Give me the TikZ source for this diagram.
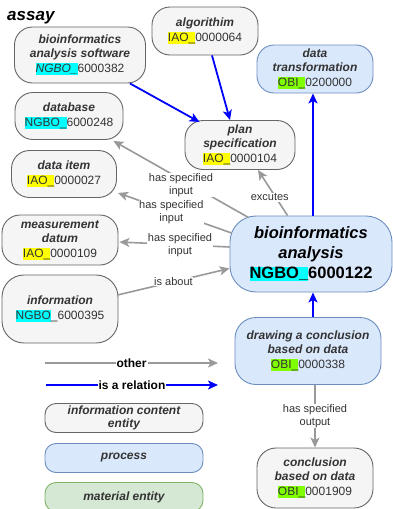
\documentclass[tikz,border=0pt]{standalone}
\usepackage{fontspec}
\setmainfont{Liberation Sans}
\usetikzlibrary{arrows.meta,calc}

\definecolor{txt}{HTML}{333333}
\definecolor{infofill}{HTML}{F5F5F5}
\definecolor{infodraw}{HTML}{666666}
\definecolor{procfill}{HTML}{DAE8FC}
\definecolor{procdraw}{HTML}{6C8EBF}
\definecolor{matfill}{HTML}{D5E8D4}
\definecolor{matdraw}{HTML}{82B366}
\definecolor{hlcyan}{HTML}{00FFFF}
\definecolor{hlyellow}{HTML}{FFFF00}
\definecolor{hlgreen}{HTML}{80FF00}
\definecolor{relblue}{HTML}{0000FF}
\definecolor{othergray}{HTML}{999999}

% highlighted ontology prefix
\newcommand{\idmark}[2]{{\setlength{\fboxsep}{0pt}\colorbox{#1}{\rule[-2.8pt]{0pt}{11.8pt}#2}}}
\newcommand{\ttl}[1]{\textbf{\textit{#1}}}

\begin{document}
\begin{tikzpicture}[x=1pt,y=-1pt,
  box/.style={align=center, text=txt, inner sep=2pt,
    font=\fontsize{12}{14.5}\selectfont, line width=0.9pt},
  info/.style={box, draw=infodraw, fill=infofill, rounded corners=18pt},
  proc/.style={box, draw=procdraw, fill=procfill, rounded corners=17pt},
  mat/.style={box, draw=matdraw, fill=matfill, rounded corners=11pt},
  isa/.style={draw=relblue, line width=1.8pt,
    -{Stealth[length=10pt,width=9pt,inset=2.5pt]}},
  other/.style={draw=othergray, line width=1.6pt,
    -{Stealth[length=10pt,width=9pt,inset=2.5pt]}},
  lbl/.style={fill=white, text=txt, align=center, inner sep=0.6pt,
    font=\fontsize{11}{13}\selectfont},
  leglbl/.style={fill=white, text=black, inner sep=1pt,
    font=\bfseries\fontsize{12}{14}\selectfont},
  legbox/.style={minimum width=158pt, minimum height=29pt, rounded corners=11pt,
    font=\bfseries\itshape\fontsize{12}{13.5}\selectfont}
]
\useasboundingbox[fill=white] (0,0) rectangle (393,509);

% title
\node[anchor=base west, inner sep=0pt, font=\bfseries\itshape\fontsize{17}{19}\selectfont]
  (title) at (7,20) {assay};

% ontology terms
\node[info, minimum width=131pt, minimum height=56pt] (sw) at (80,55)
  {\ttl{bioinformatics}\\\ttl{analysis software}\\\idmark{hlcyan}{\textit{NGBO\_}}6000382};
\node[info, minimum width=106pt, minimum height=48pt] (alg) at (205,31)
  {\ttl{algorithim}\\\idmark{hlyellow}{IAO\_}0000064};
\node[proc, minimum width=116pt, minimum height=48pt] (dt) at (315,69)
  {\ttl{data}\\\ttl{transformation}\\\idmark{hlgreen}{OBI\_}0200000};
\node[info, minimum width=108pt, minimum height=47pt] (db) at (69,116)
  {\ttl{database}\\\idmark{hlcyan}{NGBO\_}6000248};
\node[info, minimum width=110pt, minimum height=49pt] (plan) at (240,145)
  {\ttl{plan}\\\ttl{specification}\\\idmark{hlyellow}{IAO\_}0000104};
\node[info, minimum width=105pt, minimum height=47pt] (ditem) at (64,174)
  {\ttl{data item}\\\idmark{hlyellow}{IAO\_}0000027};
\node[info, minimum width=116pt, minimum height=50pt] (meas) at (60,240)
  {\ttl{measurement}\\\ttl{datum}\\\idmark{hlyellow}{IAO\_}0000109};
\node[proc, rounded corners=26pt, minimum width=162pt, minimum height=76pt,
  font=\fontsize{16.5}{20}\selectfont, text=black] (bio) at (311,254)
  {\ttl{bioinformatics}\\\ttl{analysis}\\\textbf{\idmark{hlcyan}{NGBO\_}6000122}};
\node[info, rounded corners=22pt, minimum width=116pt, minimum height=68pt] (info) at (60,309)
  {\ttl{information}\\\idmark{hlcyan}{NGBO}\_6000395};
\node[proc, rounded corners=21pt, minimum width=146pt, minimum height=67pt] (draw) at (308,351)
  {\ttl{drawing a conclusion}\\\ttl{based on data}\\\idmark{hlgreen}{OBI\_}0000338};
\node[info, rounded corners=19pt, minimum width=116pt, minimum height=60pt] (concl) at (315,478)
  {\ttl{conclusion}\\\ttl{based on data}\\\idmark{hlgreen}{OBI\_}0001909};

% "is a" relations
\draw[isa] ($(sw.south east)+(-16,0)$) -- ($(plan.north west)+(15,2)$);
\draw[isa] ($(alg.south)+(7,0)$) -- ($(plan.north)+(-10,0)$);
\draw[isa] ($(bio.north)+(2,0)$) -- ($(dt.south)+(-2,0)$);
\draw[isa] ($(draw.north)+(5,0)$) -- ($(bio.south)+(2,0)$);

% other relations
\draw[other] ($(bio.north west)+(58,0)$) -- node[lbl, pos=0.4, xshift=-6pt] {excutes} ($(plan.south)+(18,0)$);
\draw[other] ($(bio.north west)+(19,2)$) -- node[lbl, pos=0.5, yshift=-6pt] {has specified\\input} ($(db.south east)+(-10,1)$);
\draw[other] ($(bio.west)+(2,-21)$) -- node[lbl, pos=0.53] {has specified\\input} ($(ditem.south east)+(1,-5)$);
\draw[other] ($(bio.west)+(0,-7)$) -- node[lbl, pos=0.45] {has specified\\input} ($(meas.east)+(1,2)$);
\draw[other] ($(info.east)+(-1,-14)$) -- node[lbl, pos=0.5] {is about} ($(bio.south west)+(0,-24)$);
\draw[other] (draw.south -| concl) -- node[lbl] {has specified\\output} (concl.north);

% legend
\coordinate (oa) at (45,363);
\coordinate (ob) at (218,363);
\coordinate (ra) at (46,385);
\coordinate (rb) at (218,385);
\draw[other] (oa) -- node[leglbl] {other} (ob);
\draw[isa] (ra) -- node[leglbl] {is a relation} (rb);

\node[info, legbox] (legInfo) at (124,418) {information content\\entity};
\node[proc, legbox] (legProc) at (124,458) {process};
\node[mat, legbox] (legMat) at (124,497) {material entity};
\end{tikzpicture}
\end{document}
